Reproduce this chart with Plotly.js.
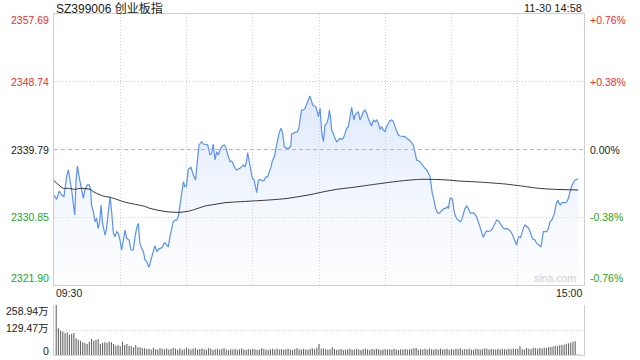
<!DOCTYPE html>
<html>
<head>
<meta charset="utf-8">
<script src="https://cdn.plot.ly/plotly-3.0.1.min.js"></script>
<style>html,body{margin:0;padding:0;background:#fff;}#chart{width:640px;height:360px;}</style>
</head>
<body>
<div id="chart"></div>
<script>
// ---- data ----
const titleText = 'SZ399006 创业板指';
const stampText = '11-30 14:58';
const timeLabels = ['09:30', '15:00'];
const prevClose = 2339.79;

const priceTicks = [2357.69, 2348.74, 2339.79, 2330.85, 2321.90];
const pctLabels = ['+0.76%', '+0.38%', '0.00%', '-0.38%', '-0.76%'];
const volTicks = [258.94, 129.47, 0];
const volLabels = ['258.94万', '129.47万', '0'];

// minutes since 09:30 (trading minutes, lunch skipped)
const minutes = [
0,1.2,2.4,3.5,4.5,5.7,6.5,7.2,8,8.75,9.4,10,10.6,11.5,12.5,13.3,14,15.1,16,16.6,17,17.8,18.6,19.3,20,20.8,21.3,22,23.1,23.8,
24.6,25.4,26.1,26.9,27.6,28.4,29.1,29.9,30.6,31.4,32.2,32.9,34,34.9,35.9,36.7,37.4,38.2,38.9,39.7,40.5,41.2,42,43,43.8,44.7,45.7,46.5,47.2,48,
49.1,49.8,50.3,51,51.8,52.5,53.3,54,54.8,55.5,56.3,57,57.8,58.6,59.3,60,60.8,
62.0,63.1,64.1,65.1,65.7,66.9,67.6,68.7,69.6,70.6,71.4,72.1,72.9,73.7,74.4,75.2,76.2,77.1,77.7,78.6,79.7,80.5,81.2,82.0,82.7,83.5,84.2,85.0,85.7,86.5,
87.2,87.7,88.3,89.2,89.8,90.6,91.3,91.8,92.5,93.3,94.3,95.1,95.8,96.8,97.5,98.3,98.9,99.8,100.4,101.1,101.9,102.8,103.5,104.3,105.4,106.4,107.2,107.6,108.4,109.1,
110.2,110.9,111.7,112.1,112.9,113.7,114.4,115.2,115.9,116.7,117.1,117.9,118.5,119.2,119.7,120.5,121.2,122.0,
122.7,123.5,124.2,124.7,125.3,125.7,126.5,127.2,128.0,128.8,129.5,130.3,131.0,131.8,132.5,133.3,134.0,134.8,135.2,135.9,136.3,137.1,137.8,138.6,139.3,140.1,140.8,141.6,142.3,143.1,
143.8,144.6,145.4,146.1,146.9,147.6,148.4,149.1,149.9,150.6,151.4,152.1,152.9,153.7,154.4,155.2,155.9,156.7,158.2,158.9,159.7,160.4,161.2,161.9,162.7,163.2,163.8,164.2,165.0,165.7,
166.5,167.2,168.0,168.8,169.5,170.3,170.7,171.3,172.1,172.8,173.6,174.3,175.1,175.9,176.6,177.4,178.1,178.6,179.0,179.3,180.1,180.5,181.1,181.6,
182.3,183.1,183.9,184.6,185.4,186.1,186.9,187.6,188.4,189.1,189.9,190.6,191.4,192.2,192.9,193.7,194.4,195.2,195.9,196.7,197.4,198.2,198.9,199.7,200.5,201.2,202.0,202.7,203.5,204.2,
205.0,205.7,206.5,207.3,208.0,208.8,209.5,210.0,210.6,211.3,211.8,212.5,213.3,214.0,214.8,215.6,216.3,217.1,217.8,218.6,219.3,220.1,220.5,221.1,221.6,222.3,223.1,223.9,224.6,225.4,
226.1,226.6,227.3,228.1,228.7,229.3,229.9,230.6,231.4,232.2,232.9,233.7,234.4,235.2,235.9,236.7,237.4
];
const prices = [
2333.79,2333.21,2334.31,2333.79,2333.56,2336.21,2337.09,2335.99,2334.45,2332.68,2331.14,2335.77,2337.62,2335.99,2334.45,2333.35,2334.45,2335.11,2335.11,2334.45,2332.46,2331.58,2330.26,2330.70,2329.38,2330.48,2332.46,2330.04,2328.50,2329.38,
2331.58,2333.56,2331.58,2328.72,2328.28,2328.94,2328.72,2327.84,2326.52,2327.84,2329.16,2328.06,2327.84,2326.52,2326.52,2328.28,2329.38,2330.04,2327.40,2326.74,2326.30,2325.20,2324.98,2324.23,2324.98,2326.08,2327.09,2326.30,2326.61,2326.74,
2326.88,2327.40,2327.49,2327.18,2326.96,2328.28,2329.60,2330.26,2330.48,2330.48,2330.92,2332.46,2334.45,2335.55,2334.89,2334.97,2337.17,
2337.44,2336.43,2335.77,2338.85,2340.39,2340.83,2340.52,2340.48,2340.39,2339.07,2339.29,2340.52,2338.41,2339.51,2339.07,2339.73,2340.26,2340.39,2340.17,2339.20,2338.19,2338.28,2337.75,2337.31,2337.09,2337.17,2337.31,2337.53,2337.75,2337.53,
2338.19,2339.38,2338.41,2336.65,2335.99,2335.77,2334.89,2334.09,2335.68,2335.85,2335.68,2335.68,2336.12,2336.21,2336.87,2337.53,2338.32,2338.85,2339.73,2340.83,2341.93,2342.59,2342.02,2340.17,2339.95,2339.95,2340.26,2341.84,2342.02,2342.06,
2342.15,2342.59,2344.35,2345.01,2345.01,2345.23,2345.80,2346.33,2346.86,2346.11,2345.67,2345.54,2345.45,2344.79,2344.13,2345.23,2342.15,2340.83,
2343.03,2343.25,2343.91,2345.01,2343.91,2342.37,2341.93,2341.27,2340.83,2341.05,2341.27,2341.14,2341.27,2341.93,2342.59,2342.81,2343.91,2345.36,2344.57,2343.69,2344.35,2344.66,2344.79,2343.69,2344.35,2344.79,2345.01,2344.57,2343.91,2343.25,
2342.90,2343.69,2343.47,2343.69,2343.25,2342.46,2342.81,2342.37,2342.15,2342.81,2343.25,2343.60,2343.69,2343.47,2342.81,2342.15,2341.71,2341.58,2341.58,2341.49,2341.27,2341.14,2340.96,2340.70,2340.39,2339.73,2338.63,2338.41,2338.32,2338.19,
2337.88,2337.53,2337.31,2337.09,2336.73,2336.21,2335.33,2334.01,2333.12,2332.02,2331.45,2331.36,2331.58,2331.80,2332.02,2332.02,2332.24,2332.02,2332.68,2333.35,2333.35,2333.12,2331.80,2331.14,
2330.70,2330.48,2330.26,2330.48,2331.36,2332.02,2332.33,2332.02,2331.45,2331.36,2331.45,2331.27,2330.92,2330.26,2329.38,2328.72,2328.19,2328.72,2329.07,2328.94,2329.07,2329.16,2329.60,2330.13,2330.48,2330.40,2330.04,2329.60,2329.38,2329.29,
2329.38,2329.25,2329.07,2328.72,2328.28,2327.84,2327.18,2327.93,2328.28,2328.19,2328.72,2329.38,2329.82,2329.60,2329.47,2328.94,2328.28,2327.93,2327.84,2327.40,2327.18,2327.05,2326.96,2328.28,2328.94,2328.94,2328.94,2329.38,2330.26,2330.48,
2330.92,2331.36,2332.46,2333.12,2332.68,2332.46,2332.77,2332.82,2332.77,2332.90,2333.35,2334.23,2334.97,2335.41,2335.77,2335.85,2335.85
];

const avgMinutes = [0,4.2,6.5,9.5,11.8,16.3,18.6,22.3,25.4,28.4,31.4,35.9,40.5,43.5,48.0,52.5,57.1,61.3,63.8,68.4,72.9,77.4,81.9,89.5,97.1,104.6,110.6,116.7,122.4,128.0,135.5,143.1,150.6,158.2,165.7,171.8,177.8,183.5,189.1,196.7,204.2,211.8,219.3,226.9,237.4];
const avgPrices = [2335.68,2334.67,2334.67,2334.53,2334.67,2334.53,2334.09,2333.65,2333.48,2333.21,2332.90,2332.60,2332.33,2332.02,2331.72,2331.54,2331.50,2331.67,2331.89,2332.33,2332.55,2332.77,2332.86,2332.99,2333.12,2333.30,2333.56,2333.87,2334.23,2334.53,2334.80,2335.11,2335.41,2335.68,2335.85,2335.85,2335.77,2335.63,2335.55,2335.41,2335.24,2334.97,2334.67,2334.53,2334.45];

// volume per minute (万), minute 1..240
const volumes = [
259,138,126,121,112,117,104,109,114,86,79,74,66,62,57,69,83,74,78,83,
57,62,66,62,69,66,57,48,52,45,69,52,57,48,45,40,52,40,40,35,
35,31,33,29,38,30,28,36,32,30,34,28,31,37,33,29,35,27,30,38,
32,29,33,36,28,31,34,30,27,35,32,26,30,33,29,31,36,28,25,30,
28,32,27,30,34,29,26,31,28,33,30,27,29,35,31,28,26,30,32,29,
34,28,31,27,30,33,29,26,31,35,30,28,32,29,27,31,34,30,38,57,
33,35,30,28,30,40,32,27,29,31,26,28,30,33,27,29,31,28,26,30,
32,29,27,31,28,33,30,26,29,31,28,30,27,32,29,26,30,28,31,29,
30,33,35,36,27,30,29,32,28,34,30,27,31,29,33,28,30,32,27,31,
29,33,30,35,28,31,30,32,29,27,33,31,28,30,35,32,29,31,30,28,
31,29,33,30,28,32,30,34,31,32,45,30,28,36,33,30,38,35,32,36,
34,38,36,40,42,44,48,46,50,52,55,58,60,64,69,71,3,2,0,0
];
const volMinutes = volumes.map((_, i) => i + 1);

// ---- styling ----
const FONT = 'Liberation Sans, Arial, Noto Sans CJK SC, sans-serif';
const RED = '#f02d2d', GREEN = '#22a722', DARK = '#222';
const GRID = '#d0d0d0';
const xDom = [54 / 640, 584 / 640];
const yDom = [(360 - 285) / 360, (360 - 14) / 360];
const y2Dom = [(360 - 355) / 360, (360 - 305) / 360];

const traces = [
  {
    x: minutes, y: prices, type: 'scatter', mode: 'lines',
    line: { color: '#5a92ef', width: 1.2 },
    fill: 'tozeroy',
    fillgradient: {
      type: 'vertical', start: priceTicks[4], stop: 2347,
      colorscale: [[0, 'rgba(235,242,253,0.15)'], [1, 'rgba(180,205,245,0.45)']]
    },
    hoverinfo: 'skip', xaxis: 'x', yaxis: 'y'
  },
  {
    x: avgMinutes, y: avgPrices, type: 'scatter', mode: 'lines',
    line: { color: '#333', width: 1, shape: 'spline', smoothing: 0.6 },
    hoverinfo: 'skip', xaxis: 'x', yaxis: 'y'
  },
  {
    x: volMinutes, y: volumes, type: 'bar', width: 0.5,
    marker: { color: '#666', line: { width: 0 } },
    hoverinfo: 'skip', xaxis: 'x2', yaxis: 'y2'
  }
];

const gridTicks = priceTicks.filter(v => v !== prevClose);
const ann = [];
const tickColor = i => (i < 2 ? RED : i === 2 ? DARK : GREEN);
const edgeShift = i => (i === 0 ? -6 : i === priceTicks.length - 1 ? 7 : 0);
priceTicks.forEach((v, i) => {
  ann.push({ xref: 'paper', yref: 'y', x: xDom[0], y: v, xanchor: 'right', yanchor: 'middle',
    xshift: -3, yshift: edgeShift(i), text: v.toFixed(2), showarrow: false,
    font: { family: FONT, size: 10.5, color: tickColor(i) } });
  ann.push({ xref: 'paper', yref: 'y', x: xDom[1], y: v, xanchor: 'left', yanchor: 'middle',
    xshift: 4, yshift: edgeShift(i), text: pctLabels[i], showarrow: false,
    font: { family: FONT, size: 10.5, color: tickColor(i) } });
});
const volShift = [-6, 2, 4];
volTicks.forEach((v, i) => {
  ann.push({ xref: 'paper', yref: 'y2', x: xDom[0], y: v, xanchor: 'right', yanchor: 'middle',
    xshift: -3, yshift: volShift[i], text: volLabels[i], showarrow: false,
    font: { family: FONT, size: 10.5, color: DARK } });
});
ann.push({ xref: 'paper', yref: 'paper', x: xDom[0], y: (360 - 8) / 360, xanchor: 'left', yanchor: 'middle',
  text: titleText, showarrow: false, font: { family: FONT, size: 12, color: DARK } });
ann.push({ xref: 'paper', yref: 'paper', x: xDom[1], y: (360 - 8) / 360, xanchor: 'right', yanchor: 'middle',
  text: stampText, showarrow: false, font: { family: FONT, size: 11, color: DARK } });
ann.push({ xref: 'x', yref: 'paper', x: 0, y: (360 - 293) / 360, xanchor: 'left', yanchor: 'middle',
  text: timeLabels[0], showarrow: false, font: { family: FONT, size: 10.5, color: DARK } });
ann.push({ xref: 'x', yref: 'paper', x: 240, y: (360 - 293) / 360, xanchor: 'right', yanchor: 'middle',
  text: timeLabels[1], showarrow: false, font: { family: FONT, size: 10.5, color: DARK } });
ann.push({ xref: 'paper', yref: 'paper', x: 578 / 640, y: (360 - 278) / 360, xanchor: 'right', yanchor: 'middle',
  text: 'sina.com', showarrow: false, font: { family: FONT, size: 10.5, color: '#d0d0d0' } });

const layout = {
  width: 640, height: 360,
  margin: { l: 0, r: 0, t: 0, b: 0 },
  paper_bgcolor: '#fff', plot_bgcolor: 'rgba(0,0,0,0)',
  showlegend: false,
  font: { family: FONT },
  xaxis: {
    domain: xDom, range: [0, 240], tickvals: [0,30,60,90,120,150,180,210,240],
    showticklabels: false, ticks: '', showgrid: true, gridcolor: GRID, griddash: '1px,2px', gridwidth: 1,
    showline: true, linecolor: '#cfcfcf', linewidth: 1, mirror: true, zeroline: false, anchor: 'y'
  },
  yaxis: {
    domain: yDom, range: [priceTicks[4], priceTicks[0]], tickvals: gridTicks,
    showticklabels: false, ticks: '', showgrid: true, gridcolor: GRID, griddash: '1px,2px',
    showline: true, linecolor: '#cfcfcf', linewidth: 1, mirror: true, zeroline: false, anchor: 'x'
  },
  xaxis2: {
    domain: xDom, range: [0, 240], showticklabels: false, ticks: '', showgrid: false,
    showline: true, linecolor: '#d8d8d8', linewidth: 1, zeroline: false, anchor: 'y2'
  },
  yaxis2: {
    domain: y2Dom, range: [0, volTicks[0]], tickvals: volTicks.slice(0, 2),
    showticklabels: false, ticks: '', showgrid: true, gridcolor: GRID, griddash: '1px,2px',
    showline: true, linecolor: '#cfcfcf', linewidth: 1, mirror: true, zeroline: false, anchor: 'x2'
  },
  shapes: [{
    type: 'line', xref: 'x', yref: 'y', x0: 0, x1: 240, y0: prevClose, y1: prevClose,
    line: { color: '#f2a47a', width: 1, dash: '4px,3px' }
  }],
  annotations: ann
};

Plotly.newPlot('chart', traces, layout, { displayModeBar: false, staticPlot: true });
</script>
</body>
</html>
